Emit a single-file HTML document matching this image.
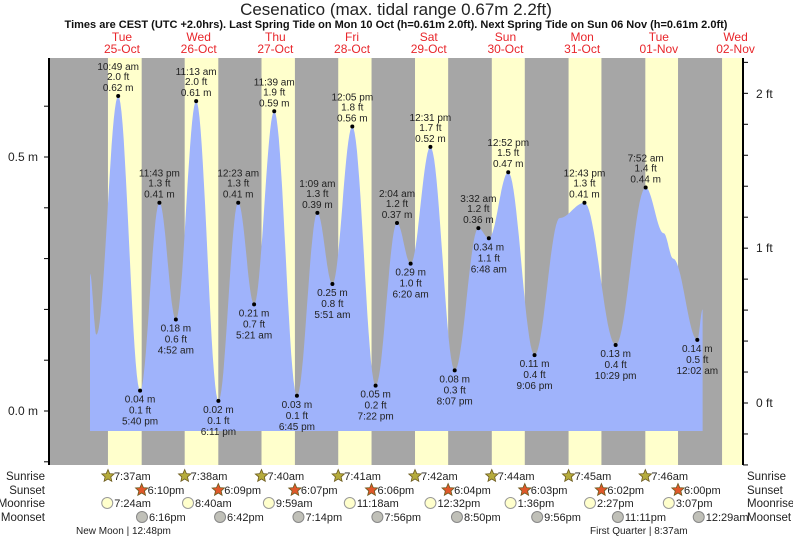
<!DOCTYPE html>
<html><head><meta charset="utf-8"><style>
body{margin:0;background:#fff;width:793px;height:539px;overflow:hidden;font-family:"Liberation Sans",sans-serif}
</style></head><body>
<svg id="s" width="793" height="539" xmlns="http://www.w3.org/2000/svg" font-family="Liberation Sans, sans-serif"></svg>
<script>
const s=document.getElementById('s');let o='';
const X0=83.6,D=76.7;
const xo=(d,h)=>X0+d*D+h/24*D, yo=m=>411-m*508;
o+=`<text x="396" y="15" font-size="17" text-anchor="middle" fill="#222">Cesenatico (max. tidal range 0.67m 2.2ft)</text>`;
o+=`<text x="396" y="28" font-size="11" font-weight="bold" text-anchor="middle" fill="#111">Times are CEST (UTC +2.0hrs). Last Spring Tide on Mon 10 Oct (h=0.61m 2.0ft). Next Spring Tide on Sun 06 Nov (h=0.61m 2.0ft)</text>`;
o+=`<rect x="49" y="58" width="694" height="407" fill="#a6a6a6"/>`;
const sr=[7.62,7.63,7.67,7.68,7.7,7.73,7.75,7.77,7.78],ss=[18.17,18.15,18.12,18.1,18.07,18.05,18.03,18.0];
const days=[['Tue','25-Oct'],['Wed','26-Oct'],['Thu','27-Oct'],['Fri','28-Oct'],['Sat','29-Oct'],['Sun','30-Oct'],['Mon','31-Oct'],['Tue','01-Nov'],['Wed','02-Nov']];
for(let d=0;d<9;d++){let a=xo(d,sr[d]),b=d<8?xo(d,ss[d]):743;o+=`<rect x="${a}" y="58" width="${Math.min(b,743)-a}" height="407" fill="#ffffcc"/>`;
let c=xo(d,12);o+=`<text x="${c}" y="41" font-size="12" text-anchor="middle" fill="#e8262b">${days[d][0]}</text><text x="${c}" y="53" font-size="12" text-anchor="middle" fill="#e8262b">${days[d][1]}</text>`;}
const E=[[0,2,0.27],[0,4,0.15],[0,10.82,0.62,'H','10:49 am','2.0 ft'],[0,17.67,0.04,'L','5:40 pm','0.1 ft'],[0,23.72,0.41,'H','11:43 pm','1.3 ft'],[1,4.87,0.18,'L','4:52 am','0.6 ft'],[1,11.22,0.61,'H','11:13 am','2.0 ft'],[1,18.18,0.02,'L','6:11 pm','0.1 ft'],[2,0.38,0.41,'H','12:23 am','1.3 ft'],[2,5.35,0.21,'L','5:21 am','0.7 ft'],[2,11.65,0.59,'H','11:39 am','1.9 ft'],[2,18.75,0.03,'L','6:45 pm','0.1 ft'],[3,1.15,0.39,'H','1:09 am','1.3 ft'],[3,5.85,0.25,'L','5:51 am','0.8 ft'],[3,12.08,0.56,'H','12:05 pm','1.8 ft'],[3,19.37,0.05,'L','7:22 pm','0.2 ft'],[4,2.07,0.37,'H','2:04 am','1.2 ft'],[4,6.33,0.29,'L','6:20 am','1.0 ft'],[4,12.52,0.52,'H','12:31 pm','1.7 ft'],[4,20.12,0.08,'L','8:07 pm','0.3 ft'],[5,3.53,0.36,'H','3:32 am','1.2 ft'],[5,6.8,0.34,'L','6:48 am','1.1 ft'],[5,12.87,0.47,'H','12:52 pm','1.5 ft'],[5,21.1,0.11,'L','9:06 pm','0.4 ft'],[6,5,0.38],[6,12.72,0.41,'H','12:43 pm','1.3 ft'],[6,22.48,0.13,'L','10:29 pm','0.4 ft'],[7,7.87,0.44,'H','7:52 am','1.4 ft'],[7,13.5,0.35],[7,16.5,0.3],[8,0.03,0.14,'L','12:02 am','0.5 ft'],[8,1.7,0.2]];
let P=[];for(let i=0;i<E.length-1;i++){let a=E[i],b=E[i+1],x1=xo(a[0],a[1]),x2=xo(b[0],b[1]);for(let t=0;t<1;t+=0.05){P.push([x1+(x2-x1)*t,yo(a[2]+(b[2]-a[2])*(1-Math.cos(Math.PI*t))/2)]);}}
let l=E[E.length-1];P.push([xo(l[0],l[1]),yo(l[2])]);
let d='M'+P[0][0]+' 431 '+P.map(p=>'L'+p[0].toFixed(1)+' '+p[1].toFixed(1)).join(' ')+' L'+P[P.length-1][0]+' 431Z';
o+=`<path d="${d}" fill="#9fb3fb"/>`;
for(const e of E){if(!e[3])continue;let x=xo(e[0],e[1]),y=yo(e[2]);o+=`<circle cx="${x}" cy="${y}" r="2" fill="#000"/>`;
let m=e[2].toFixed(2)+' m',t=`font-size="10" text-anchor="middle" fill="#222"`;
if(e[3]=='H')o+=`<text x="${x}" y="${y-26}" ${t}>${e[4]}</text><text x="${x}" y="${y-16}" ${t}>${e[5]}</text><text x="${x}" y="${y-5}" ${t}>${m}</text>`;
else o+=`<text x="${x}" y="${y+12}" ${t}>${m}</text><text x="${x}" y="${y+23}" ${t}>${e[5]}</text><text x="${x}" y="${y+34}" ${t}>${e[4]}</text>`;}
o+=`<line x1="49" y1="58" x2="49" y2="465" stroke="#000" stroke-width="2"/><line x1="743" y1="58" x2="743" y2="465" stroke="#000" stroke-width="2"/>`;
for(let m=-0.1;m<0.7;m+=0.1){let y=yo(m);if(y>57&&y<466)o+=`<line x1="44" y1="${y}" x2="49" y2="${y}" stroke="#000"/>`;}
o+=`<text x="38" y="161" font-size="12" text-anchor="end" fill="#222">0.5 m</text><text x="38" y="415" font-size="12" text-anchor="end" fill="#222">0.0 m</text>`;
for(let f=-0.4;f<2.4;f+=0.2){let y=411-f*0.3048*508-8;if(y>57&&y<466)o+=`<line x1="743" y1="${y}" x2="748" y2="${y}" stroke="#000"/>`;}
[['0 ft',403],['1 ft',248],['2 ft',94]].forEach(a=>o+=`<text x="756" y="${a[1]+4}" font-size="12" fill="#222">${a[0]}</text>`);
const rows=[['Sunrise',476],['Sunset',490],['Moonrise',503],['Moonset',517]];
rows.forEach(r=>{o+=`<text x="45" y="${r[1]+4}" font-size="11.5" text-anchor="end" fill="#222">${r[0]}</text><text x="747" y="${r[1]+4}" font-size="11.5" fill="#222">${r[0]}</text>`;});
const star=(x,y,c)=>{let p=[];for(let i=0;i<10;i++){let r=i%2?3:6.5,a=-Math.PI/2+i*Math.PI/5;p.push((x+r*Math.cos(a)).toFixed(1)+','+(y+r*Math.sin(a)).toFixed(1));}return `<polygon points="${p.join(' ')}" fill="${c}" stroke="#6b5a1e" stroke-width="0.8"/>`;};
const srt=['7:37am','7:38am','7:40am','7:41am','7:42am','7:44am','7:45am','7:46am'],sst=['6:10pm','6:09pm','6:07pm','6:06pm','6:04pm','6:03pm','6:02pm','6:00pm'];
const mr=[[7.4,'7:24am'],[8.67,'8:40am'],[9.98,'9:59am'],[11.3,'11:18am'],[12.53,'12:32pm'],[13.6,'1:36pm'],[14.45,'2:27pm'],[15.12,'3:07pm']];
const ms=[[18.27,'6:16pm'],[18.7,'6:42pm'],[19.23,'7:14pm'],[19.93,'7:56pm'],[20.83,'8:50pm'],[21.93,'9:56pm'],[23.18,'11:11pm'],[24.48,'12:29am']];
const tt=`font-size="11" fill="#222"`;
for(let i=0;i<8;i++){let x=xo(i,sr[i]);o+=star(x,476,'#b5ab3c')+`<text x="${x+6}" y="480" ${tt}>${srt[i]}</text>`;
x=xo(i,ss[i]);o+=star(x,490,'#e0582a')+`<text x="${x+6}" y="494" ${tt}>${sst[i]}</text>`;
x=xo(i,mr[i][0]);o+=`<circle cx="${x}" cy="503" r="5.5" fill="#ffffcc" stroke="#999"/><text x="${x+7}" y="507" ${tt}>${mr[i][1]}</text>`;
x=xo(i,ms[i][0]);o+=`<circle cx="${x}" cy="517" r="5.5" fill="#c0c0b8" stroke="#888"/><text x="${x+7}" y="521" ${tt}>${ms[i][1]}</text>`;}
o+=`<text x="76" y="534" font-size="10" fill="#222">New Moon | 12:48pm</text><text x="590" y="534" font-size="10" fill="#222">First Quarter | 8:37am</text>`;
s.innerHTML=o;
</script>
</body></html>
